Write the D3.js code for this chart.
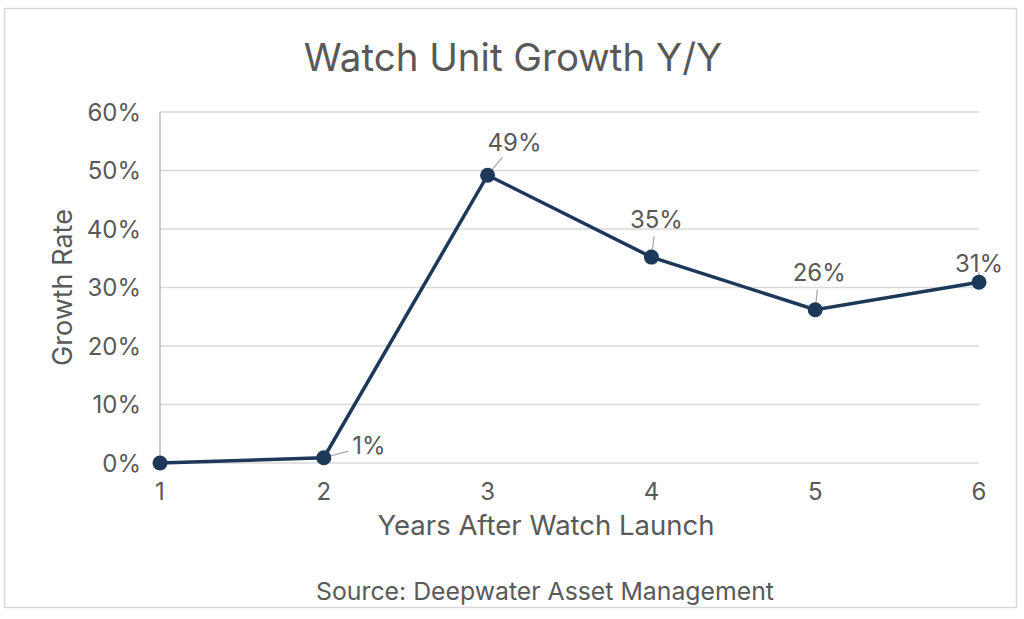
<!DOCTYPE html>
<html>
<head>
<meta charset="utf-8">
<script src="https://cdn.jsdelivr.net/npm/d3@7"></script>
<style>
  body { margin: 0; background: #fff; }
  text { font-family: Inter, "Noto Sans", sans-serif; fill: #595959; }
</style>
</head>
<body>
<div id="chart"></div>
<script>
// chart data
const years = [1, 2, 3, 4, 5, 6];
const growth = [0, 0.9, 49.2, 35.2, 26.2, 30.9];
const pointLabels = ['', '1%', '49%', '35%', '26%', '31%'];
const yTicks = [0, 10, 20, 30, 40, 50, 60];

// where each label sits relative to its point (dx, dy)
const labelOffsets = [null, [45, -12], [27, -33], [5, -38], [4, -37], [0, -19]];

const width = 1024, height = 619;
const margin = { top: 112, right: 45, bottom: 156, left: 160 };

const svg = d3.select('#chart')
    .append('svg')
    .attr('width', width)
    .attr('height', height);

// outer frame
svg.append('rect')
    .attr('x', 4.5).attr('y', 8.5)
    .attr('width', 1012).attr('height', 599)
    .attr('fill', '#fff')
    .attr('stroke', '#d9d9d9')
    .attr('stroke-width', 1.5);

const xScale = d3.scaleLinear()
    .domain([1, 6])
    .range([margin.left, width - margin.right]);

const yScale = d3.scaleLinear()
    .domain([0, 60])
    .range([height - margin.bottom, margin.top]);

// gridlines
svg.append('g')
    .selectAll('line')
    .data(yTicks)
    .join('line')
    .attr('x1', margin.left)
    .attr('x2', width - margin.right)
    .attr('y1', d => yScale(d))
    .attr('y2', d => yScale(d))
    .attr('stroke', '#d9d9d9')
    .attr('stroke-width', 1.5);

// y axis line
svg.append('line')
    .attr('x1', margin.left).attr('x2', margin.left)
    .attr('y1', yScale(60)).attr('y2', yScale(0))
    .attr('stroke', '#bfbfbf')
    .attr('stroke-width', 1.5);

// y tick labels
svg.append('g')
    .selectAll('text')
    .data(yTicks)
    .join('text')
    .attr('x', margin.left - 19)
    .attr('y', d => yScale(d))
    .attr('dy', '0.36em')
    .attr('text-anchor', 'end')
    .style('font-size', '24px')
    .text(d => d + '%');

// x tick labels
svg.append('g')
    .selectAll('text')
    .data(years)
    .join('text')
    .attr('x', d => xScale(d))
    .attr('y', yScale(0) + 37)
    .attr('text-anchor', 'middle')
    .style('font-size', '24px')
    .text(d => d);

// title
svg.append('text')
    .attr('x', 513)
    .attr('y', 71)
    .attr('text-anchor', 'middle')
    .style('font-size', '38.5px')
    .text('Watch Unit Growth Y/Y');

// axis titles
svg.append('text')
    .attr('transform', `translate(72, ${yScale(30)}) rotate(-90)`)
    .attr('text-anchor', 'middle')
    .style('font-size', '27px')
    .text('Growth Rate');

svg.append('text')
    .attr('x', 546)
    .attr('y', 535)
    .attr('text-anchor', 'middle')
    .style('font-size', '27.5px')
    .text('Years After Watch Launch');

svg.append('text')
    .attr('x', 545)
    .attr('y', 600)
    .attr('text-anchor', 'middle')
    .style('font-size', '24.8px')
    .text('Source: Deepwater Asset Management');

const points = years.map((y, i) => ({ year: y, value: growth[i], label: pointLabels[i], off: labelOffsets[i] }));

// leader lines
svg.append('g')
    .selectAll('line')
    .data(points.filter(d => d.off))
    .join('line')
    .attr('x1', d => xScale(d.year))
    .attr('y1', d => yScale(d.value))
    .attr('x2', d => xScale(d.year) + d.off[0] * 0.55)
    .attr('y2', d => yScale(d.value) + d.off[1] * 0.55)
    .attr('stroke', '#a6a6a6')
    .attr('stroke-width', 1.2);

// line
const line = d3.line()
    .x(d => xScale(d.year))
    .y(d => yScale(d.value));

svg.append('path')
    .datum(points)
    .attr('d', line)
    .attr('fill', 'none')
    .attr('stroke', '#1e3859')
    .attr('stroke-width', 3.5);

svg.append('g')
    .selectAll('circle')
    .data(points)
    .join('circle')
    .attr('cx', d => xScale(d.year))
    .attr('cy', d => yScale(d.value))
    .attr('r', 7.5)
    .attr('fill', '#1e3859');

// data labels
svg.append('g')
    .selectAll('text')
    .data(points.filter(d => d.off))
    .join('text')
    .attr('x', d => xScale(d.year) + d.off[0])
    .attr('y', d => yScale(d.value) + d.off[1])
    .attr('dy', '0.36em')
    .attr('text-anchor', 'middle')
    .style('font-size', '24px')
    .text(d => d.label);
</script>
</body>
</html>
